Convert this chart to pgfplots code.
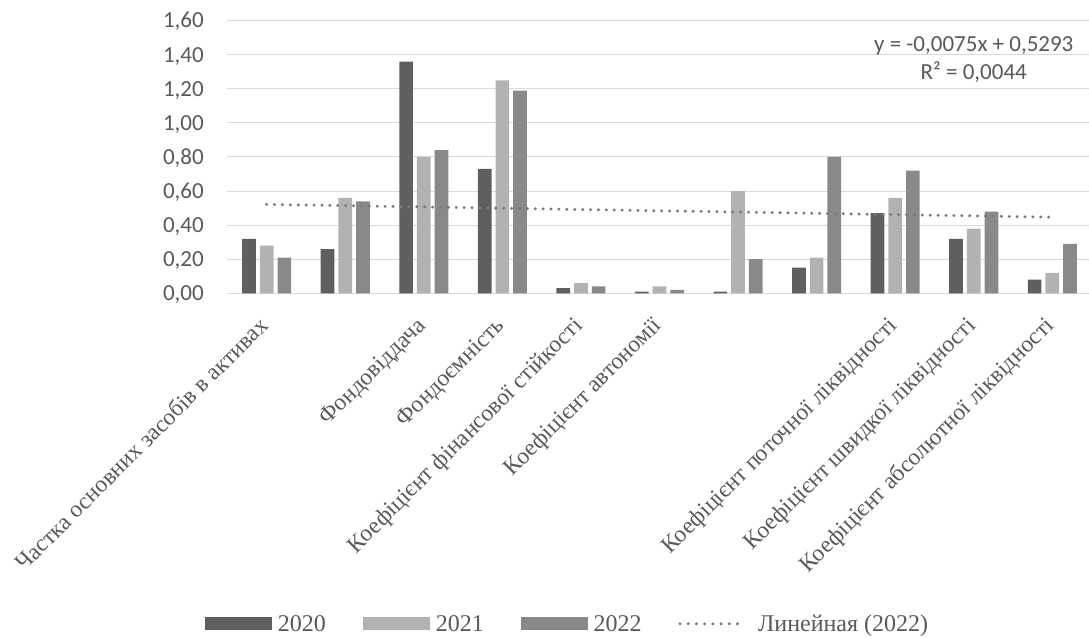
\documentclass[border=0pt]{standalone}
\usepackage{pgfplots}
\pgfplotsset{compat=1.18}
\usepackage{fontspec}
\setmainfont{Liberation Serif}
\newfontfamily\calibri{Carlito}
\definecolor{c2020}{HTML}{5F5F5F}
\definecolor{c2021}{HTML}{B2B2B2}
\definecolor{c2022}{HTML}{898989}
\definecolor{ctrend}{HTML}{7A7A7A}
\definecolor{gridc}{HTML}{D9D9D9}
\definecolor{txt}{HTML}{595959}
\begin{document}
\begin{tikzpicture}
\useasboundingbox (0,0) rectangle (1089pt,637pt);
\begin{axis}[
  at={(227.4pt,343.7pt)}, anchor=south west,
  scale only axis, width=864.2pt, height=272.6pt,
  xmin=0.5, xmax=11.5, ymin=0, ymax=1.6,
  ybar=4pt, bar width=13.7pt,
  axis line style={draw=none},
  major tick length=0pt,
  ymajorgrids, grid style={gridc, line width=1pt},
  ytick={0,0.2,0.4,0.6,0.8,1.0,1.2,1.4,1.6},
  yticklabel style={font=\calibri\fontsize{23}{27}\selectfont, text=txt, inner sep=0pt, anchor=base east, xshift=-23.4pt, yshift=-7.3pt,
    /pgf/number format/.cd, fixed, fixed zerofill, precision=2, use comma, assume math mode=true},
  xtick={1,2,3,4,5,6,7,8,9,10,11},
  xticklabels={Частка основних засобів в активах,,Фондовіддача,Фондоємність,Коефіцієнт фінансової стійкості,Коефіцієнт автономії,,,Коефіцієнт поточної ліквідності,Коефіцієнт швидкої ліквідності,Коефіцієнт абсолютної ліквідності},
  xticklabel style={font=\fontsize{23.5}{28}\selectfont, text=txt, inner sep=0pt, anchor=base east, xshift=3pt, yshift=-33.5pt, rotate=45},
  legend columns=4,
  legend style={draw=none, fill=none, inner sep=0pt, outer sep=0pt,
    font=\fontsize{24}{28}\selectfont, text=txt,
    nodes={inner sep=0pt, text depth=0pt},
    cells={anchor=base west},
    /tikz/every odd column/.append style={column sep=6pt},
    /tikz/every even column/.append style={column sep=36.8pt},
    anchor=west, at={(-0.02592,-1.2113)}},
]
\addplot[fill=c2020, draw=none, legend image code/.code={\fill[c2020] (0pt,1.8pt) rectangle (67pt,14.8pt);}] coordinates {
 (1,0.32) (2,0.26) (3,1.36) (4,0.73) (5,0.03) (6,0.01) (7,0.01) (8,0.15) (9,0.47) (10,0.32) (11,0.08)};
\addlegendentry{2020}
\addplot[fill=c2021, draw=none, legend image code/.code={\fill[c2021] (0pt,1.8pt) rectangle (67pt,14.8pt);}] coordinates {
 (1,0.28) (2,0.56) (3,0.80) (4,1.25) (5,0.06) (6,0.04) (7,0.60) (8,0.21) (9,0.56) (10,0.38) (11,0.12)};
\addlegendentry{2021}
\addplot[fill=c2022, draw=none, legend image code/.code={\fill[c2022] (0pt,1.8pt) rectangle (67pt,14.8pt);}] coordinates {
 (1,0.21) (2,0.54) (3,0.84) (4,1.19) (5,0.04) (6,0.02) (7,0.20) (8,0.80) (9,0.72) (10,0.48) (11,0.29)};
\addlegendentry{2022}
\addplot[sharp plot, ctrend, line width=3.3pt, dash pattern=on 0pt off 7.9pt, line cap=round,
  legend image code/.code={\draw[ctrend, line width=3.3pt, dash pattern=on 0pt off 8.2pt, line cap=round] (1.5pt,8pt) -- (66pt,8pt); \path (72pt,8pt);}] coordinates {
 (1,0.5218) (11,0.4468)};
\addlegendentry{Линейная (2022)}
\node[font=\calibri\fontsize{23}{27}\selectfont, text=txt, anchor=base, inner sep=0pt] at (axis cs:10,1.418) {y = -0,0075x + 0,5293};
\node[font=\calibri\fontsize{23}{27}\selectfont, text=txt, anchor=base, inner sep=0pt] at (axis cs:10,1.252) {R² = 0,0044};
\end{axis}
\end{tikzpicture}
\end{document}
